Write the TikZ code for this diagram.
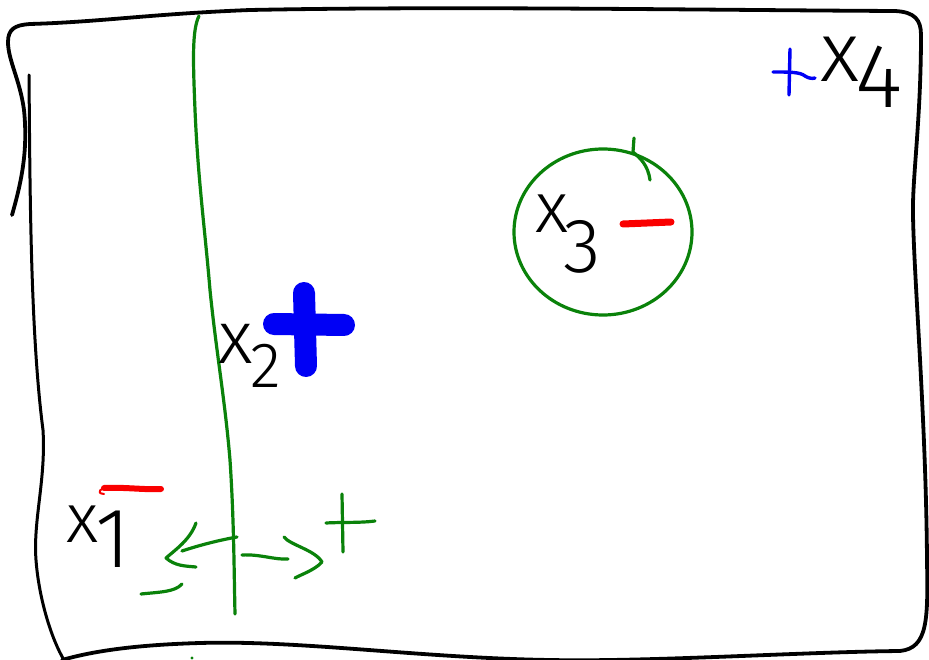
\documentclass[tikz,border=0pt]{standalone}
\usepackage{fontspec}
\usetikzlibrary{shapes.geometric}
\IfFontExistsTF{Fira Sans Light}{\newfontfamily\hand{Fira Sans Light}}{\newfontfamily\hand{Fira Sans}}
\definecolor{pgreen}{RGB}{10,130,10}
\definecolor{pblue}{RGB}{0,0,245}
\definecolor{pred}{RGB}{250,0,0}
\begin{document}
\begin{tikzpicture}[x=1pt,y=-1pt,line cap=round,line join=round,
  frame/.style={draw=black,line width=3.8pt},
  thinframe/.style={draw=black,line width=3pt},
  gline/.style={draw=pgreen,line width=3.2pt},
  bline/.style={draw=pblue,line width=3.4pt},
  bfat/.style={draw=pblue,line width=22pt},
  rline/.style={draw=pred,line width=6pt},
  lbl/.style={inner sep=0pt,text=black,font=\hand}]
\fill[white] (0,0) rectangle (929,660);
\useasboundingbox (0,0) rectangle (929,660);
% outer frame
\draw[frame] (12,215) .. controls (22,180) and (28,150) .. (24,110)
  .. controls (20,80) and (8,60) .. (8,42)
  .. controls (8,29) and (15,25) .. (30,24)
  .. controls (100,22) and (150,14) .. (250,10)
  .. controls (450,6) and (700,10) .. (895,11)
  .. controls (915,12) and (921,20) .. (921,35)
  .. controls (921,120) and (912,180) .. (913,215)
  .. controls (914,280) and (926,420) .. (927,560)
  .. controls (928,620) and (928,648) .. (900,651)
  .. controls (800,652) and (650,662) .. (550,660)
  .. controls (420,658) and (300,640) .. (200,643)
  .. controls (130,645) and (90,652) .. (62,660);
\draw[thinframe] (29,75) .. controls (30,180) and (30,330) .. (43,430)
  .. controls (46,480) and (33,520) .. (36,560)
  .. controls (39,600) and (52,640) .. (64,660);
% green separating line
\coordinate (gtop) at (199,16);
\coordinate (gbot) at (235,614);
\draw[gline] (gtop) .. controls (192,30) and (193,60) .. (195,110)
  .. controls (198,180) and (205,230) .. (210,290)
  .. controls (216,350) and (225,400) .. (230,460)
  .. controls (234,520) and (234,570) .. (gbot);
% green circle
\node[draw=pgreen,line width=3.2pt,ellipse,minimum width=178pt,minimum height=166pt,inner sep=0pt] (circ) at (603,232) {};
\draw[gline] (634,138) -- (633,152) .. controls (640,158) and (648,165) .. (650,180);
% big blue plus
\draw[bfat] (304,293) -- (306,366);
\draw[bfat] (274,324) -- (344,325);
% small blue plus
\draw[bline] (790,49) -- (789,95);
\draw[bline] (773,72) .. controls (790,72) and (800,72) .. (805,76) .. controls (808,78) and (812,79) .. (815,78);
% red minuses
\draw[draw=pred,line width=7pt] (623,224) -- (671,222);
\draw[rline] (104,488) .. controls (125,487) and (145,490) .. (161,489);
\draw[draw=pred,line width=2pt] (112,486) .. controls (100,488) and (95,493) .. (104,494);
% green arrows and signs
\draw[gline] (196,523) .. controls (190,540) and (175,550) .. (166,558) .. controls (175,566) and (185,566) .. (196,567);
\draw[gline] (182,551) .. controls (200,545) and (220,540) .. (237,537);
\draw[gline] (242,555) .. controls (260,554) and (275,560) .. (288,559);
\draw[gline] (284,537) .. controls (290,545) and (315,550) .. (322,562) .. controls (315,570) and (300,575) .. (295,578);
\draw[gline] (141,594) .. controls (160,592) and (175,592) .. (182,584);
\draw[gline] (342,494) -- (343,552);
\draw[gline] (326,523) .. controls (345,522) and (360,523) .. (375,521);
\fill[pgreen] (192,658) circle (1.6);
% labels
\node[lbl,anchor=base west] (x2) at (218,363) {\fontsize{75}{75}\selectfont x\kern-2pt\raisebox{-24pt}{\fontsize{64}{64}\selectfont 2}};
\node[lbl,anchor=base west] (x3) at (535,233) {\fontsize{72}{72}\selectfont x\kern-5pt\raisebox{-40pt}{\fontsize{77}{77}\selectfont 3}};
\node[lbl,anchor=base west] (x1) at (66,542) {\fontsize{70}{70}\selectfont x\kern-3pt\raisebox{-25pt}{\fontsize{85}{85}\selectfont 1}};
\node[lbl,anchor=base west] (x4) at (820,82) {\fontsize{85}{85}\selectfont x\kern-4pt\raisebox{-26pt}{\fontsize{91}{91}\selectfont 4}};
\end{tikzpicture}
\end{document}
